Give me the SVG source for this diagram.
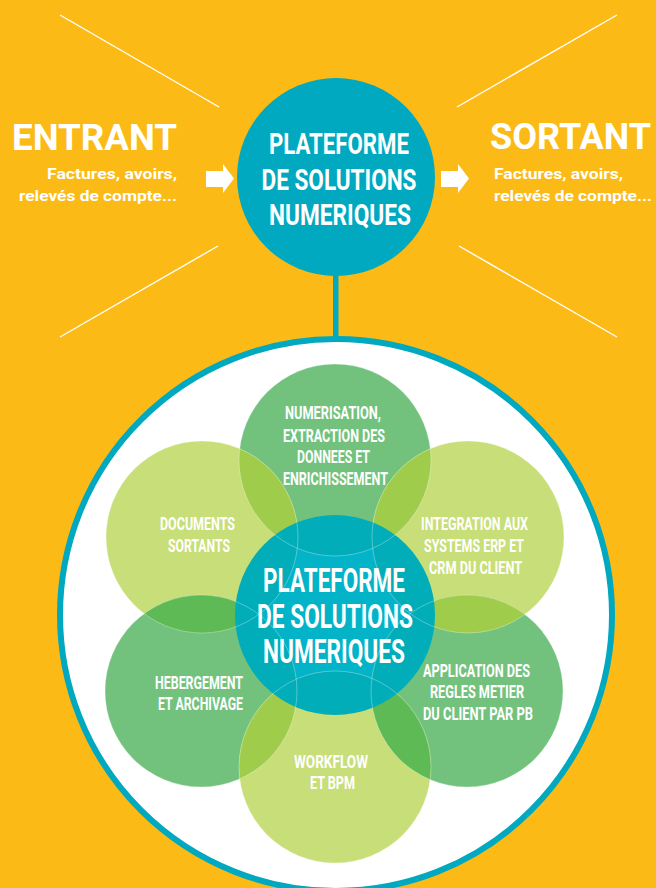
<svg xmlns="http://www.w3.org/2000/svg" width="656" height="888" viewBox="0 0 656 888">
<style>
.bg{fill:#FBBA16}
.ray{stroke:#FFFFFF;stroke-width:1.4;fill:none}
.teal{fill:#00A9BF}
.light{fill:#C8DE78}
.med{fill:#72C27E}
.yg{fill:#A0CC4C}
.dg{fill:#5DBA55}
.edge{fill:none;stroke:#FFFFFF;stroke-opacity:0.45;stroke-width:0.7}
.t{font-family:Roboto,"Liberation Sans",sans-serif;font-weight:bold;fill:#FFFFFF}
.c{text-anchor:middle}
.s{font-size:18px}
</style>
<defs>
<clipPath id="cp-top"><circle cx="335" cy="460" r="96"/></clipPath>
<clipPath id="cp-ul"><circle cx="202" cy="537" r="96"/></clipPath>
<clipPath id="cp-ur"><circle cx="468" cy="537" r="96"/></clipPath>
<clipPath id="cp-ll"><circle cx="201" cy="691" r="96"/></clipPath>
<clipPath id="cp-lr"><circle cx="467" cy="691" r="96"/></clipPath>
<clipPath id="cp-bot"><circle cx="335" cy="767" r="96"/></clipPath>
<mask id="m-core">
<circle cx="335" cy="615" r="100" fill="#FFFFFF"/>
<circle cx="335" cy="460" r="96" fill="#000000"/>
<circle cx="202" cy="537" r="96" fill="#000000"/>
<circle cx="468" cy="537" r="96" fill="#000000"/>
<circle cx="201" cy="691" r="96" fill="#000000"/>
<circle cx="467" cy="691" r="96" fill="#000000"/>
<circle cx="335" cy="767" r="96" fill="#000000"/>
</mask>
</defs>
<rect class="bg" x="0" y="0" width="656" height="888"/>
<g id="rays">
<line class="ray" x1="60" y1="15" x2="219" y2="107"/>
<line class="ray" x1="60" y1="337" x2="218" y2="246"/>
<line class="ray" x1="457" y1="107" x2="617" y2="15"/>
<line class="ray" x1="459" y1="246" x2="617" y2="337"/>
</g>
<g id="connectors">
<rect class="teal" x="333" y="270" width="5.5" height="72"/>
<path d="M206 171 H223 V164 L234 178.5 L223 193 V187 H206 Z" fill="#FFFFFF"/>
<path d="M441 171 H458 V164 L469 178.5 L458 193 V187 H441 Z" fill="#FFFFFF"/>
</g>
<g id="entrant">
<text class="t" x="177" y="150" font-size="36" text-anchor="end" textLength="165" lengthAdjust="spacingAndGlyphs">ENTRANT</text>
<text class="t" x="177" y="179" font-size="15.5" text-anchor="end" textLength="130" lengthAdjust="spacingAndGlyphs">Factures, avoirs,</text>
<text class="t" x="177" y="201" font-size="15.5" text-anchor="end" textLength="158" lengthAdjust="spacingAndGlyphs">relevés de compte...</text>
</g>
<g id="sortant">
<text class="t" x="490" y="149" font-size="36" textLength="161" lengthAdjust="spacingAndGlyphs">SORTANT</text>
<text class="t" x="494" y="179" font-size="15.5" textLength="129" lengthAdjust="spacingAndGlyphs">Factures, avoirs,</text>
<text class="t" x="494" y="201" font-size="15.5" textLength="158" lengthAdjust="spacingAndGlyphs">relevés de compte...</text>
</g>
<g id="platform-top">
<circle class="teal" cx="336" cy="177" r="99"/>
<text class="t c" transform="translate(339,154) scale(0.75,1)" font-size="30" textLength="186.7" lengthAdjust="spacingAndGlyphs">PLATEFORME</text>
<text class="t c" transform="translate(339,190) scale(0.75,1)" font-size="30" textLength="206.7" lengthAdjust="spacingAndGlyphs">DE SOLUTIONS</text>
<text class="t c" transform="translate(340,225) scale(0.75,1)" font-size="30" textLength="189.3" lengthAdjust="spacingAndGlyphs">NUMERIQUES</text>
</g>
<g id="big-circle">
<circle cx="336" cy="615" r="276" fill="#FFFFFF" stroke="#00A9BF" stroke-width="6"/>
</g>
<g id="petal-top"><circle class="med" cx="335" cy="460" r="96"/></g>
<g id="petal-ul"><circle class="light" cx="202" cy="537" r="96"/></g>
<g id="petal-ur"><circle class="light" cx="468" cy="537" r="96"/></g>
<g id="petal-ll"><circle class="med" cx="201" cy="691" r="96"/></g>
<g id="petal-lr"><circle class="med" cx="467" cy="691" r="96"/></g>
<g id="petal-bot"><circle class="light" cx="335" cy="767" r="96"/></g>
<g id="overlaps">
<circle class="yg" cx="335" cy="460" r="96" clip-path="url(#cp-ul)"/>
<circle class="yg" cx="335" cy="460" r="96" clip-path="url(#cp-ur)"/>
<circle class="yg" cx="468" cy="537" r="96" clip-path="url(#cp-lr)"/>
<circle class="dg" cx="467" cy="691" r="96" clip-path="url(#cp-bot)"/>
<circle class="yg" cx="335" cy="767" r="96" clip-path="url(#cp-ll)"/>
<circle class="dg" cx="201" cy="691" r="96" clip-path="url(#cp-ul)"/>
</g>
<g id="center">
<circle cx="335" cy="615" r="100" fill="#00ADB8"/>
<circle cx="335" cy="615" r="100" fill="#03B3C8" mask="url(#m-core)"/>
</g>
<g id="edges">
<circle class="edge" cx="335" cy="460" r="96"/>
<circle class="edge" cx="202" cy="537" r="96"/>
<circle class="edge" cx="468" cy="537" r="96"/>
<circle class="edge" cx="201" cy="691" r="96"/>
<circle class="edge" cx="467" cy="691" r="96"/>
<circle class="edge" cx="335" cy="767" r="96"/>
</g>
<g id="labels">
<text class="t c s" transform="translate(333,419) scale(0.72,1)" textLength="133.3" lengthAdjust="spacingAndGlyphs">NUMERISATION,</text>
<text class="t c s" transform="translate(334,441.5) scale(0.72,1)" textLength="141.7" lengthAdjust="spacingAndGlyphs">EXTRACTION DES</text>
<text class="t c s" transform="translate(333.5,463) scale(0.72,1)" textLength="101.4" lengthAdjust="spacingAndGlyphs">DONNEES ET</text>
<text class="t c s" transform="translate(335.5,484.5) scale(0.72,1)" textLength="145.8" lengthAdjust="spacingAndGlyphs">ENRICHISSEMENT</text>
<text class="t c s" transform="translate(197.5,530) scale(0.72,1)" textLength="104.2" lengthAdjust="spacingAndGlyphs">DOCUMENTS</text>
<text class="t c s" transform="translate(199,551.5) scale(0.72,1)" textLength="86.1" lengthAdjust="spacingAndGlyphs">SORTANTS</text>
<text class="t c s" transform="translate(474.5,530) scale(0.72,1)" textLength="148.6" lengthAdjust="spacingAndGlyphs">INTEGRATION AUX</text>
<text class="t c s" transform="translate(474,551.5) scale(0.72,1)" textLength="138.9" lengthAdjust="spacingAndGlyphs">SYSTEMS ERP ET</text>
<text class="t c s" transform="translate(475.5,573.5) scale(0.72,1)" textLength="129.2" lengthAdjust="spacingAndGlyphs">CRM DU CLIENT</text>
<text class="t c" transform="translate(334,591.5) scale(0.72,1)" font-size="33" textLength="197.2" lengthAdjust="spacingAndGlyphs">PLATEFORME</text>
<text class="t c" transform="translate(335,628) scale(0.72,1)" font-size="33" textLength="216.7" lengthAdjust="spacingAndGlyphs">DE SOLUTIONS</text>
<text class="t c" transform="translate(334,663) scale(0.72,1)" font-size="33" textLength="197.2" lengthAdjust="spacingAndGlyphs">NUMERIQUES</text>
<text class="t c s" transform="translate(199,689) scale(0.72,1)" textLength="122.2" lengthAdjust="spacingAndGlyphs">HEBERGEMENT</text>
<text class="t c s" transform="translate(200.5,710) scale(0.72,1)" textLength="118.1" lengthAdjust="spacingAndGlyphs">ET ARCHIVAGE</text>
<text class="t c s" transform="translate(476.5,676.5) scale(0.72,1)" textLength="148.6" lengthAdjust="spacingAndGlyphs">APPLICATION DES</text>
<text class="t c s" transform="translate(477,698) scale(0.72,1)" textLength="130.6" lengthAdjust="spacingAndGlyphs">REGLES METIER</text>
<text class="t c s" transform="translate(478,719.5) scale(0.72,1)" textLength="152.8" lengthAdjust="spacingAndGlyphs">DU CLIENT PAR PB</text>
<text class="t c s" transform="translate(331,767.5) scale(0.72,1)" textLength="102.8" lengthAdjust="spacingAndGlyphs">WORKFLOW</text>
<text class="t c s" transform="translate(332.5,788.5) scale(0.72,1)" textLength="62.5" lengthAdjust="spacingAndGlyphs">ET BPM</text>
</g>
</svg>
